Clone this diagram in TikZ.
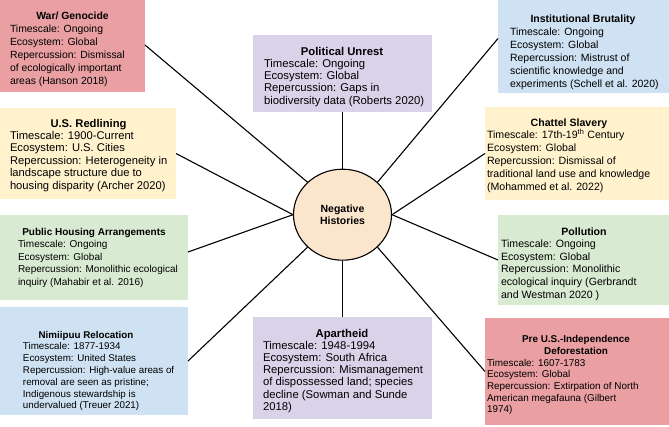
\documentclass[tikz,border=0pt]{standalone}
\usepackage{fontspec}
\setmainfont{Liberation Sans}
\usetikzlibrary{shapes.geometric}
\definecolor{cred}{HTML}{EAA0A3}
\definecolor{cpurple}{HTML}{D9D2E9}
\definecolor{cblue}{HTML}{CFE2F3}
\definecolor{cyellow}{HTML}{FFF2CC}
\definecolor{cgreen}{HTML}{D9EAD3}
\definecolor{corange}{HTML}{FCE5CD}
\newcommand{\setfs}[2]{\fontsize{#1}{#2}\selectfont}
\newcommand{\bodylines}[1]{\begin{tabular}[t]{@{}l@{}}#1\end{tabular}}
\newcommand{\titlelines}[1]{\begin{tabular}[t]{@{}c@{}}#1\end{tabular}}
\begin{document}
\begin{tikzpicture}[x=1pt,y=-1pt,
  boxsty/.style={rectangle, draw=none, inner sep=0pt, outer sep=0pt},
  titlesty/.style={inner sep=0pt, outer sep=0pt, anchor=base},
  bodysty/.style={inner sep=0pt, outer sep=0pt, anchor=base west},
  conn/.style={draw=black, line width=1.1pt}]
\useasboundingbox (0,0) rectangle (669,426);
\clip (0,0) rectangle (669,426);
\fill[white] (0,0) rectangle (669,426);

% hub
\node[ellipse, draw=black, line width=1.1pt, fill=corange, minimum width=98pt, minimum height=91pt, inner sep=0pt, align=center, font={\setfs{10.5}{12.5}\bfseries}] (hub) at (342.5,214.7) {Negative\\Histories};

% boxes
\node[boxsty, fill=cred, minimum width=145pt, minimum height=94pt] (war) at (72.5,45) {};
\node[boxsty, fill=cpurple, minimum width=179pt, minimum height=77pt] (pol) at (342.5,73.5) {};
\node[boxsty, fill=cblue, minimum width=171pt, minimum height=109pt] (inst) at (583.5,38.5) {};
\node[boxsty, fill=cyellow, minimum width=176pt, minimum height=91pt] (red) at (88,153.5) {};
\node[boxsty, fill=cyellow, minimum width=184pt, minimum height=93pt] (chat) at (577,153.5) {};
\node[boxsty, fill=cgreen, minimum width=188pt, minimum height=85pt] (pub) at (94,257.5) {};
\node[boxsty, fill=cgreen, minimum width=171pt, minimum height=90pt] (poll) at (583.5,260) {};
\node[boxsty, fill=cblue, minimum width=188pt, minimum height=108pt] (nim) at (94,361) {};
\node[boxsty, fill=cpurple, minimum width=179pt, minimum height=102pt] (apart) at (342.5,368) {};
\node[boxsty, fill=cred, minimum width=184pt, minimum height=107pt] (pre) at (577,371.5) {};

% texts
\node[titlesty, font={\setfs{10.4}{13}\bfseries}] (war-t) at (72.5,19) {War/ Genocide};
\node[bodysty, font={\setfs{10.4}{13}}] (war-b) at (10,32) {\bodylines{Timescale: Ongoing\\Ecosystem: Global\\Repercussion: Dismissal\\of ecologically important\\areas (Hanson 2018)}};

\node[titlesty, font={\setfs{11.3}{12.3}\bfseries}] (pol-t) at (342,55) {Political Unrest};
\node[bodysty, font={\setfs{11.3}{12.3}}] (pol-b) at (264,67.3) {\bodylines{Timescale: Ongoing\\Ecosystem: Global\\Repercussion: Gaps in\\biodiversity data (Roberts 2020)}};

\node[titlesty, font={\setfs{10.5}{13}\bfseries}] (inst-t) at (583,22) {Institutional Brutality};
\node[bodysty, font={\setfs{10.5}{13}}] (inst-b) at (510,35) {\bodylines{Timescale: Ongoing\\Ecosystem: Global\\Repercussion: Mistrust of\\scientific knowledge and\\experiments (Schell et al. 2020)}};

\node[titlesty, font={\setfs{11.2}{12.4}\bfseries}] (red-t) at (88.5,127) {U.S. Redlining};
\node[bodysty, font={\setfs{11.2}{12.4}}] (red-b) at (10,139.4) {\bodylines{Timescale: 1900-Current\\Ecosystem: U.S. Cities\\Repercussion: Heterogeneity in\\landscape structure due to\\housing disparity (Archer 2020)}};

\node[titlesty, font={\setfs{10.6}{12.8}\bfseries}] (chat-t) at (569,126) {Chattel Slavery};
\node[bodysty, font={\setfs{10.6}{12.8}}] (chat-b) at (487,138.8) {\bodylines{Timescale: 17th-19\textsuperscript{th} Century\\Ecosystem: Global\\Repercussion: Dismissal of\\traditional land use and knowledge\\(Mohammed et al. 2022)}};

\node[titlesty, font={\setfs{10.0}{12.5}\bfseries}] (pub-t) at (94,235) {Public Housing Arrangements};
\node[bodysty, font={\setfs{10.0}{12.5}}] (pub-b) at (18,247.5) {\bodylines{Timescale: Ongoing\\Ecosystem: Global\\Repercussion: Monolithic ecological\\inquiry (Mahabir et al. 2016)}};

\node[titlesty, font={\setfs{10.6}{12.6}\bfseries}] (poll-t) at (584,235) {Pollution};
\node[bodysty, font={\setfs{10.6}{12.6}}] (poll-b) at (501,247.6) {\bodylines{Timescale: Ongoing\\Ecosystem: Global\\Repercussion: Monolithic\\ecological inquiry (Gerbrandt\\and Westman 2020 )}};

\node[titlesty, font={\setfs{9.8}{11.8}\bfseries}] (nim-t) at (86,338) {Nimiipuu Relocation};
\node[bodysty, font={\setfs{9.8}{11.8}}] (nim-b) at (23,349.8) {\bodylines{Timescale: 1877-1934\\Ecosystem: United States\\Repercussion: High-value areas of\\removal are seen as pristine;\\Indigenous stewardship is\\undervalued (Treuer 2021)}};

\node[titlesty, font={\setfs{11.3}{12.2}\bfseries}] (apart-t) at (342,337) {Apartheid};
\node[bodysty, font={\setfs{11.3}{12.2}}] (apart-b) at (263,349.2) {\bodylines{Timescale: 1948-1994\\Ecosystem: South Africa\\Repercussion: Mismanagement\\of dispossessed land; species\\decline (Sowman and Sunde\\2018)}};

\node[titlesty, font={\setfs{9.9}{11.7}\bfseries}] (pre-t) at (576,342.7) {\titlelines{Pre U.S.-Independence\\Deforestation}};
\node[bodysty, font={\setfs{9.9}{11.7}}] (pre-b) at (487,366.1) {\bodylines{Timescale: 1607-1783\\Ecosystem: Global\\Repercussion: Extirpation of North\\American megafauna (Gilbert\\1974)}};

% connectors
\draw[conn] (war.east) -- (hub.north west);
\draw[conn] (pol.south) -- (hub.north);
\draw[conn] (inst.west) -- (hub.north east);
\draw[conn] (red.east) -- (hub.west);
\draw[conn] (chat.west) -- (hub.east);
\draw[conn] ([yshift=5.5pt]pub.east) -- (hub.west);
\draw[conn] (poll.west) -- (hub.east);
\draw[conn] (nim.east) -- (hub.south west);
\draw[conn] (apart.north) -- (hub.south);
\draw[conn] (pre.west) -- (hub.south east);
\end{tikzpicture}
\end{document}
